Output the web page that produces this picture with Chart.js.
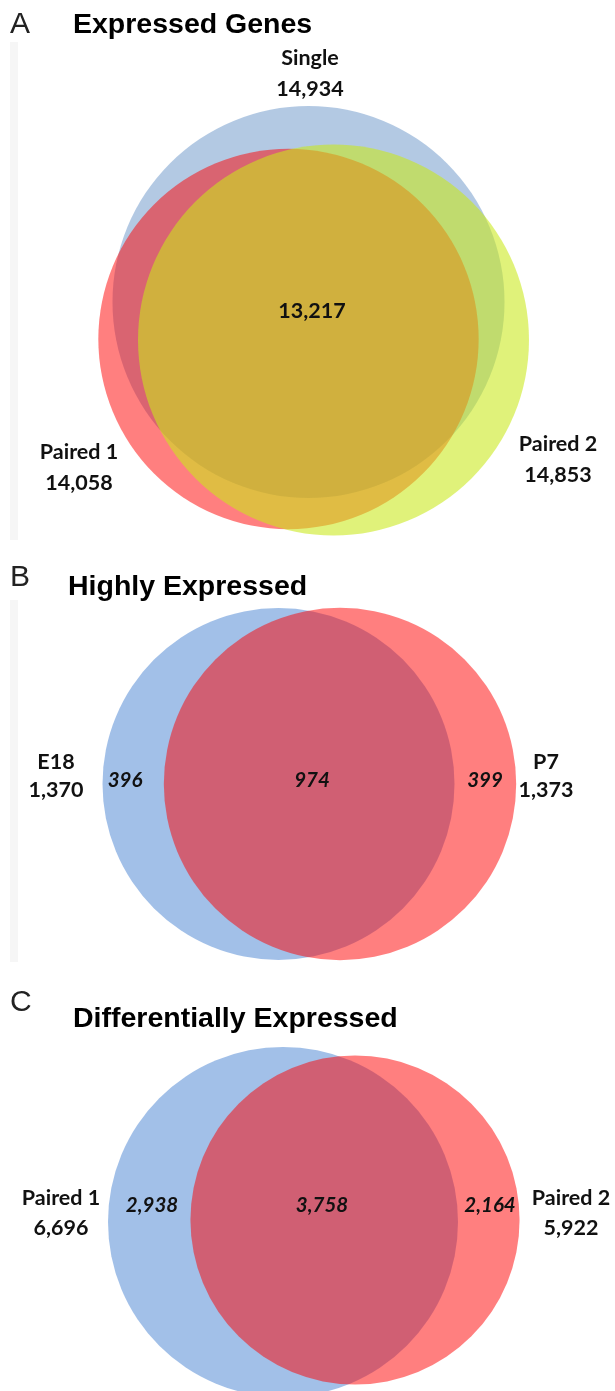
<!DOCTYPE html>
<html>
<head>
<meta charset="utf-8">
<title>Venn diagrams</title>
<script src="https://cdn.jsdelivr.net/npm/chart.js@4.4.1/dist/chart.umd.min.js"></script>
<style>
  html, body { margin: 0; padding: 0; background: #fff; }
  #page { position: relative; width: 615px; height: 1391px; overflow: hidden; }
  #venn { position: absolute; left: 0; top: 0; }
  .letter { position: absolute; font: 30px "Liberation Sans", Arial, sans-serif; color: #222; line-height: 1; }
  .title { position: absolute; font: bold 28.5px "Liberation Sans", Arial, sans-serif; color: #000; line-height: 1; white-space: nowrap; }
  .edge { position: absolute; background: #f6f6f6; }
</style>
</head>
<body>
<div id="page">
  <div class="edge" style="left:10px;top:42px;width:8px;height:498px"></div>
  <div class="edge" style="left:10px;top:600px;width:8px;height:362px"></div>
  <canvas id="venn" width="615" height="1391"></canvas>
  <div class="letter" style="left:10px;top:8px">A</div>
  <div class="title" style="left:73px;top:9px">Expressed Genes</div>
  <div class="letter" style="left:10px;top:561px">B</div>
  <div class="title" style="left:68px;top:571px">Highly Expressed</div>
  <div class="letter" style="left:10px;top:986px">C</div>
  <div class="title" style="left:73px;top:1003px">Differentially Expressed</div>
</div>
<script>
// A - expressed genes, three sets
const setsA = ["Single", "Paired 1", "Paired 2"]
const totalsA = [14934, 14058, 14853]
const sharedA = 13217

// B - highly expressed
const setsB = ["E18", "P7"]
const totalsB = [1370, 1373]
const onlyB = [396, 399]
const sharedB = 974

// C - differentially expressed
const setsC = ["Paired 1", "Paired 2"]
const totalsC = [6696, 5922]
const onlyC = [2938, 2164]
const sharedC = 3758

// layout: circle centres (page units), radius factor for sqrt(total), label spots
const layoutA = {
  k: 1.604,
  centers: [[308.5, 302], [288.5, 339], [333.5, 340]],
  colors: ["rgba(79,129,189,0.43)", "rgba(255,0,0,0.5)", "rgba(202,233,26,0.58)"],
  order: [3, 2, 1],
  labels: [[310, 58], [79, 452], [558, 444]],
  gap: 31,
  shared: [312, 311],
}
const layoutB = {
  k: 4.755,
  centers: [[278.5, 784], [340, 784]],
  colors: ["rgba(70,130,210,0.5)", "rgba(255,0,0,0.5)"],
  order: [2, 1],
  labels: [[56, 762], [546, 762]],
  gap: 28,
  only: [[125, 780], [485, 780]],
  shared: [312, 780],
}
const layoutC = {
  k: 2.1386,
  centers: [[283, 1222], [355, 1220]],
  colors: ["rgba(70,130,210,0.5)", "rgba(255,0,0,0.5)"],
  order: [2, 1],
  labels: [[61, 1198], [571, 1198]],
  gap: 30,
  only: [[152, 1205], [490, 1205]],
  shared: [322, 1205],
}

const fmt = (n) => n.toLocaleString("en-US")

function circles(totals, lay) {
  return totals.map((total, i) => {
    const [cx, cy] = lay.centers[i]
    const r = lay.k * Math.sqrt(total)
    // radius in page units -> pixels through the x scale
    const radius = (ctx) => {
      const s = ctx.chart.scales.x
      return Math.abs(s.getPixelForValue(cx + r) - s.getPixelForValue(cx))
    }
    return {
      type: "scatter",
      data: [{ x: cx, y: cy }],
      showLine: false,
      pointBackgroundColor: lay.colors[i],
      pointBorderWidth: 0,
      pointHoverBorderWidth: 0,
      pointRadius: radius,
      pointHoverRadius: radius,
      order: lay.order[i],
      clip: false,
    }
  })
}

// text for one panel, drawn after the circles
function panelText(sets, totals, lay, only, shared, innerItalic) {
  const items = []
  sets.forEach((name, i) => {
    const [x, y] = lay.labels[i]
    items.push({ text: name, x: x, y: y, italic: false })
    items.push({ text: fmt(totals[i]), x: x, y: y + lay.gap, italic: false })
  })
  if (only) {
    only.forEach((v, i) => {
      items.push({ text: fmt(v), x: lay.only[i][0], y: lay.only[i][1], italic: true })
    })
  }
  items.push({ text: fmt(shared), x: lay.shared[0], y: lay.shared[1], italic: innerItalic })
  return items
}

const textItems = [
  ...panelText(setsA, totalsA, layoutA, null, sharedA, false),
  ...panelText(setsB, totalsB, layoutB, onlyB, sharedB, true),
  ...panelText(setsC, totalsC, layoutC, onlyC, sharedC, true),
]

const vennLabels = {
  id: "vennLabels",
  afterDatasetsDraw(chart) {
    const { ctx, scales } = chart
    ctx.save()
    ctx.fillStyle = "#111"
    ctx.textAlign = "center"
    ctx.textBaseline = "middle"
    textItems.forEach((t) => {
      ctx.font = t.italic ? "italic bold 20.5px Lato" : "bold 21.5px Lato"
      ctx.fillText(t.text, scales.x.getPixelForValue(t.x), scales.y.getPixelForValue(t.y))
    })
    ctx.restore()
  },
}

new Chart(document.getElementById("venn"), {
  type: "scatter",
  data: {
    datasets: [
      ...circles(totalsA, layoutA),
      ...circles(totalsB, layoutB),
      ...circles(totalsC, layoutC),
    ],
  },
  options: {
    responsive: false,
    maintainAspectRatio: false,
    animation: false,
    events: [],
    layout: { padding: 0 },
    scales: {
      x: { type: "linear", min: 0, max: 615, display: false },
      y: { type: "linear", min: 0, max: 1391, reverse: true, display: false },
    },
    plugins: {
      legend: { display: false },
      tooltip: { enabled: false },
    },
  },
  plugins: [vennLabels],
})
</script>
</body>
</html>
